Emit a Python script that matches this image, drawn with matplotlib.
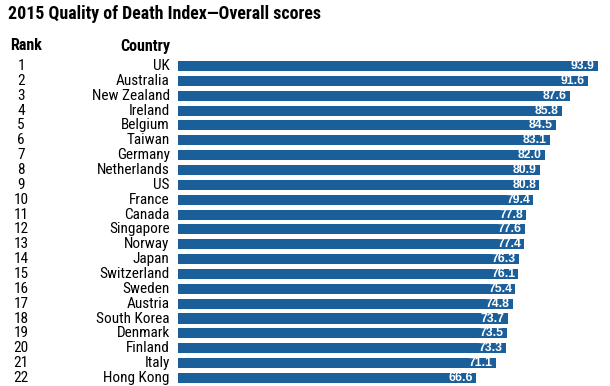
import matplotlib
matplotlib.use('Agg')
import matplotlib.pyplot as plt
import numpy as np

plt.rcParams['font.family'] = ['Roboto Condensed', 'Fira Sans Condensed', 'DejaVu Sans']

countries = ['UK', 'Australia', 'New Zealand', 'Ireland', 'Belgium', 'Taiwan',
             'Germany', 'Netherlands', 'US', 'France', 'Canada', 'Singapore',
             'Norway', 'Japan', 'Switzerland', 'Sweden', 'Austria', 'South Korea',
             'Denmark', 'Finland', 'Italy', 'Hong Kong']
scores = [93.9, 91.6, 87.6, 85.8, 84.5, 83.1, 82.0, 80.9, 80.8, 79.4, 77.8, 77.6,
          77.4, 76.3, 76.1, 75.4, 74.8, 73.7, 73.5, 73.3, 71.1, 66.6]
ranks = list(range(1, len(countries) + 1))

bar_col = '#1a5e9a'

fig = plt.figure(figsize=(6.10, 3.86), dpi=100)
ax = fig.add_axes([178 / 610, 0.0016, 1 - 178 / 610, 0.8466])

y = np.arange(len(countries))
ax.barh(y, scores, height=0.68, color=bar_col)
ax.set_xlim(0, 96.6)
ax.set_ylim(len(countries) - 0.5, -0.5)
ax.axis('off')

for i, (c, s, r) in enumerate(zip(countries, scores, ranks)):
    ax.text(s - 0.7, i, f'{s:.1f}', color='white', fontsize=8.8, fontweight='bold',
            ha='right', va='center', family=['Liberation Sans', 'DejaVu Sans'])
    ax.annotate(c, xy=(0, i), xycoords='data', xytext=(-6, 0), textcoords='offset points',
                ha='right', va='center', fontsize=11)
    ax.annotate(str(r), xy=(0, i), xycoords='data', xytext=(-157 * 0.72, 0),
                textcoords='offset points', ha='center', va='center', fontsize=11)

fig.text(8 / 610, 1 - 14 / 386, '2015 Quality of Death Index\u2014Overall scores',
         fontsize=12.9, fontweight='bold', ha='left', va='center')
fig.text(10 / 610, 1 - 46 / 386, 'Rank', fontsize=11.5, fontweight='bold',
         ha='left', va='center')
fig.text(170 / 610, 1 - 46 / 386, 'Country', fontsize=11.5, fontweight='bold',
         ha='right', va='center')

fig.savefig('out.png', dpi=100)
